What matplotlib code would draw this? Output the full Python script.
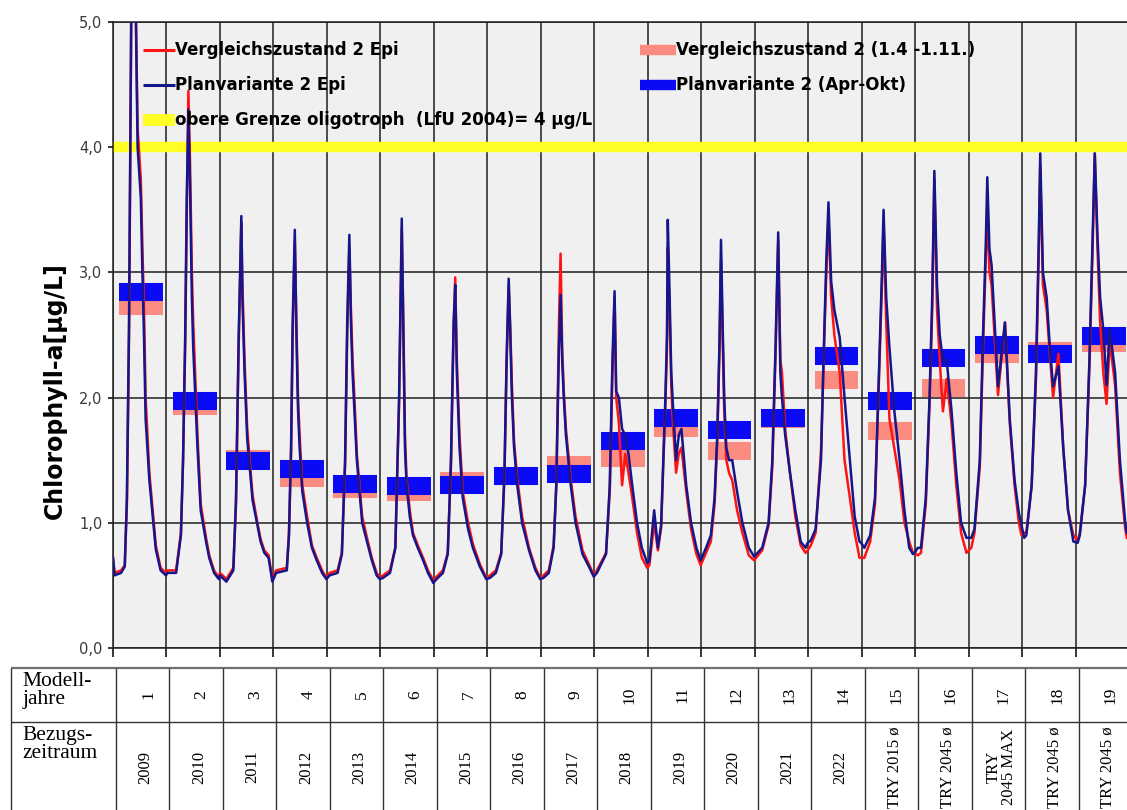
import numpy as np
import matplotlib.pyplot as plt
from matplotlib import font_manager

# --- data ------------------------------------------------------------------

MODEL_YEARS = ["1", "2", "3", "4", "5", "6", "7", "8", "9", "10",
               "11", "12", "13", "14", "15", "16", "17", "18", "19"]
PERIODS = ["2009", "2010", "2011", "2012", "2013", "2014", "2015", "2016",
           "2017", "2018", "2019", "2020", "2021", "2022",
           "TRY 2015 ø", "TRY 2045 ø", "TRY\n2045 MAX", "TRY 2045 ø",
           "TRY 2045 ø"]

# seasonal mean per model year
PLAN_MEAN = [2.84, 1.97, 1.49, 1.43, 1.31, 1.29, 1.30, 1.37, 1.39, 1.655,
             1.84, 1.74, 1.84, 2.33, 1.97, 2.32, 2.42, 2.35, 2.49]
VERG_MEAN = [2.73, 1.93, 1.51, 1.36, 1.27, 1.25, 1.33, 1.37, 1.46, 1.52,
             1.76, 1.57, 1.83, 2.14, 1.73, 2.08, 2.35, 2.37, 2.44]

# daily epilimnion curves, sampled at knots (fraction of each model year)
EPI_F = [
    [0.00, 0.03, 0.15, 0.22, 0.26, 0.30, 0.35, 0.41, 0.46, 0.52, 0.55, 0.58, 0.61, 0.68, 0.80, 0.89, 0.99],
    [0.02, 0.18, 0.27, 0.31, 0.35, 0.38, 0.41, 0.44, 0.475, 0.50, 0.54, 0.58, 0.64, 0.74, 0.80, 0.89, 0.98],
    [0.00, 0.12, 0.25, 0.30, 0.35, 0.40, 0.42, 0.46, 0.51, 0.61, 0.70, 0.76, 0.83, 0.91, 0.98],
    [0.05, 0.25, 0.29, 0.33, 0.36, 0.40, 0.43, 0.46, 0.49, 0.54, 0.63, 0.72, 0.81, 0.91, 0.99],
    [0.05, 0.20, 0.28, 0.34, 0.38, 0.42, 0.45, 0.48, 0.52, 0.56, 0.66, 0.75, 0.84, 0.93, 0.99],
    [0.05, 0.18, 0.28, 0.32, 0.35, 0.40, 0.43, 0.46, 0.49, 0.55, 0.61, 0.70, 0.80, 0.89, 0.99],
    [0.05, 0.17, 0.26, 0.32, 0.37, 0.40, 0.43, 0.48, 0.54, 0.64, 0.73, 0.86, 0.98],
    [0.05, 0.16, 0.26, 0.32, 0.36, 0.40, 0.43, 0.46, 0.50, 0.56, 0.65, 0.78, 0.90, 0.99],
    [0.05, 0.15, 0.24, 0.29, 0.34, 0.37, 0.40, 0.43, 0.47, 0.56, 0.65, 0.78, 0.90, 0.99],
    [0.05, 0.22, 0.29, 0.34, 0.38, 0.41, 0.46, 0.52, 0.58, 0.64, 0.71, 0.80, 0.89, 0.99],
    [0.03, 0.12, 0.19, 0.25, 0.29, 0.33, 0.36, 0.375, 0.41, 0.44, 0.47, 0.53, 0.58, 0.63, 0.72, 0.81, 0.91, 0.99],
    [0.09, 0.18, 0.25, 0.30, 0.34, 0.37, 0.40, 0.43, 0.47, 0.52, 0.58, 0.67, 0.77, 0.89, 0.99],
    [0.14, 0.26, 0.33, 0.39, 0.44, 0.48, 0.51, 0.57, 0.66, 0.76, 0.86, 0.95, 0.99],
    [0.05, 0.14, 0.24, 0.30, 0.34, 0.38, 0.43, 0.49, 0.59, 0.68, 0.78, 0.87, 0.96, 0.99],
    [0.05, 0.16, 0.25, 0.31, 0.38, 0.41, 0.46, 0.52, 0.61, 0.71, 0.80, 0.89, 0.96, 0.99],
    [0.05, 0.11, 0.20, 0.27, 0.32, 0.36, 0.41, 0.46, 0.52, 0.59, 0.68, 0.77, 0.86, 0.96],
    [0.05, 0.11, 0.21, 0.27, 0.32, 0.35, 0.39, 0.43, 0.55, 0.68, 0.77, 0.86, 0.94, 0.99],
    [0.04, 0.08, 0.18, 0.26, 0.31, 0.34, 0.39, 0.46, 0.52, 0.58, 0.68, 0.77, 0.86, 0.96],
    [0.04, 0.08, 0.18, 0.26, 0.32, 0.36, 0.41, 0.46, 0.52, 0.58, 0.64, 0.74, 0.83, 0.93, 0.96],
]
PLAN_EPI = [
    [0.72, 0.58, 0.60, 0.65, 1.20, 2.60, 5.60, 5.60, 4.00, 3.60, 3.00, 2.48, 1.83, 1.34, 0.79, 0.62, 0.58],
    [0.60, 0.60, 0.90, 1.50, 2.50, 3.60, 4.30, 3.70, 2.80, 2.40, 2.00, 1.60, 1.10, 0.85, 0.72, 0.60, 0.55],
    [0.58, 0.53, 0.62, 1.18, 2.48, 3.45, 2.80, 2.20, 1.67, 1.18, 0.98, 0.85, 0.76, 0.72, 0.53],
    [0.60, 0.62, 0.90, 1.60, 2.60, 3.34, 2.50, 1.90, 1.60, 1.25, 1.00, 0.80, 0.70, 0.60, 0.55],
    [0.58, 0.60, 0.75, 1.50, 2.60, 3.30, 2.60, 2.20, 1.85, 1.50, 1.00, 0.85, 0.70, 0.58, 0.55],
    [0.56, 0.60, 0.80, 1.50, 2.00, 3.43, 2.50, 1.60, 1.30, 1.05, 0.90, 0.80, 0.70, 0.60, 0.52],
    [0.55, 0.60, 0.75, 1.50, 2.60, 2.90, 2.20, 1.60, 1.20, 0.95, 0.80, 0.65, 0.55],
    [0.56, 0.60, 0.75, 1.40, 2.30, 2.95, 2.50, 2.00, 1.60, 1.30, 1.00, 0.78, 0.62, 0.55],
    [0.56, 0.60, 0.80, 1.30, 2.40, 2.82, 2.30, 2.00, 1.70, 1.30, 1.00, 0.75, 0.65, 0.57],
    [0.60, 0.75, 1.30, 2.30, 2.85, 2.05, 2.00, 1.75, 1.70, 1.55, 1.30, 1.00, 0.80, 0.68],
    [0.69, 1.10, 0.80, 0.98, 1.50, 2.00, 2.50, 3.42, 2.80, 2.20, 1.95, 1.50, 1.70, 1.75, 1.30, 1.00, 0.80, 0.70],
    [0.80, 0.90, 1.20, 1.70, 2.40, 3.26, 2.60, 2.00, 1.60, 1.50, 1.50, 1.25, 1.00, 0.80, 0.73],
    [0.80, 1.00, 1.50, 2.40, 3.32, 2.20, 2.00, 1.70, 1.40, 1.10, 0.85, 0.80, 0.84],
    [0.86, 0.95, 1.50, 2.50, 3.10, 3.56, 2.93, 2.70, 2.48, 2.00, 1.50, 1.05, 0.85, 0.84],
    [0.80, 0.90, 1.20, 2.00, 3.00, 3.50, 2.80, 2.40, 1.90, 1.50, 1.10, 0.80, 0.75, 0.76],
    [0.80, 0.80, 1.20, 2.00, 2.80, 3.81, 2.90, 2.50, 2.30, 2.30, 1.90, 1.40, 1.00, 0.88],
    [0.88, 0.95, 1.50, 2.50, 3.20, 3.76, 3.19, 3.06, 2.09, 2.60, 1.83, 1.34, 1.08, 0.98],
    [0.88, 0.90, 1.30, 2.20, 3.20, 3.95, 3.00, 2.80, 2.40, 2.09, 2.25, 1.60, 1.10, 0.85],
    [0.84, 0.90, 1.30, 2.30, 3.30, 3.95, 3.30, 2.80, 2.54, 2.10, 2.55, 2.20, 1.50, 1.00, 0.92],
]
VERG_EPI = [
    [0.72, 0.60, 0.62, 0.66, 1.15, 2.50, 5.60, 5.60, 4.15, 3.75, 3.20, 2.70, 2.00, 1.40, 0.82, 0.64, 0.60],
    [0.62, 0.62, 0.92, 1.50, 2.40, 3.50, 4.45, 3.90, 3.00, 2.60, 2.15, 1.70, 1.15, 0.88, 0.74, 0.62, 0.56],
    [0.60, 0.55, 0.64, 1.15, 2.40, 3.40, 2.90, 2.30, 1.75, 1.22, 1.00, 0.87, 0.78, 0.74, 0.55],
    [0.62, 0.64, 0.90, 1.55, 2.50, 3.25, 2.60, 2.00, 1.70, 1.30, 1.05, 0.82, 0.72, 0.62, 0.56],
    [0.60, 0.62, 0.76, 1.45, 2.50, 3.20, 2.70, 2.30, 1.95, 1.55, 1.05, 0.88, 0.72, 0.60, 0.56],
    [0.58, 0.62, 0.80, 1.45, 1.95, 3.35, 2.60, 1.70, 1.35, 1.10, 0.92, 0.82, 0.72, 0.62, 0.54],
    [0.57, 0.62, 0.76, 1.45, 2.55, 2.96, 2.30, 1.70, 1.25, 1.00, 0.83, 0.67, 0.56],
    [0.58, 0.62, 0.76, 1.35, 2.25, 2.90, 2.55, 2.10, 1.65, 1.35, 1.05, 0.80, 0.64, 0.56],
    [0.58, 0.62, 0.82, 1.30, 2.60, 3.15, 2.40, 2.05, 1.75, 1.35, 1.05, 0.78, 0.67, 0.58],
    [0.62, 0.76, 1.25, 2.20, 2.80, 2.00, 1.80, 1.30, 1.55, 1.40, 1.20, 0.92, 0.72, 0.64],
    [0.66, 1.00, 0.78, 0.96, 1.45, 1.95, 2.40, 3.20, 2.65, 2.10, 1.80, 1.40, 1.55, 1.60, 1.25, 0.95, 0.75, 0.66],
    [0.76, 0.85, 1.15, 1.65, 2.35, 3.10, 2.50, 1.90, 1.50, 1.40, 1.34, 1.10, 0.92, 0.74, 0.70],
    [0.78, 0.98, 1.45, 2.35, 3.25, 2.30, 2.20, 1.75, 1.40, 1.05, 0.82, 0.76, 0.78],
    [0.82, 0.92, 1.57, 2.45, 3.00, 3.45, 2.80, 2.50, 2.20, 1.50, 1.20, 0.92, 0.72, 0.72],
    [0.72, 0.85, 1.15, 1.95, 2.90, 3.40, 2.60, 1.83, 1.60, 1.34, 1.00, 0.85, 0.76, 0.76],
    [0.74, 0.76, 1.15, 1.95, 2.70, 3.75, 2.70, 2.30, 1.89, 2.15, 1.80, 1.30, 0.92, 0.76],
    [0.80, 0.92, 1.45, 2.40, 3.10, 3.50, 3.00, 2.90, 2.02, 2.60, 1.80, 1.30, 1.00, 0.90],
    [0.92, 0.92, 1.30, 2.15, 3.10, 3.85, 2.90, 2.70, 2.35, 2.00, 2.35, 1.60, 1.10, 0.90],
    [0.86, 0.92, 1.30, 2.25, 3.20, 3.95, 3.20, 2.60, 2.20, 1.95, 2.45, 2.10, 1.40, 0.95, 0.88],
]
OLIGO_LIMIT = 4.0

for f, p, v in zip(EPI_F, PLAN_EPI, VERG_EPI):
    assert len(f) == len(p) == len(v)

t = np.concatenate([k + np.array(f) for k, f in enumerate(EPI_F)])
plan = np.concatenate(PLAN_EPI)
verg = np.concatenate(VERG_EPI)

# --- figure ------------------------------------------------------------------

W, H = 1127, 810
fig = plt.figure(figsize=(W / 100, H / 100), dpi=100)


def px_box(x0, y0, x1, y1):
    return [x0 / W, 1 - y1 / H, (x1 - x0) / W, (y1 - y0) / H]


names = {f.name for f in font_manager.fontManager.ttflist}
if "Liberation Sans Narrow" in names:
    LEG_FONT, LEG_SIZE = "Liberation Sans Narrow", 16
else:
    LEG_FONT, LEG_SIZE = "DejaVu Sans", 12
SERIF = "Liberation Serif"

RED, NAVY = "#ff1414", "#16168c"
SALMON, BLUE, YELLOW = "#fa8c82", "#0a0af5", "#ffff26"

ax = fig.add_axes(px_box(113, 22, 1129, 648))
ax.set_facecolor("#f0f0f0")
ax.set_xlim(0, 19)
ax.set_ylim(0, 5)
ax.set_xticks(np.arange(0, 20))
ax.set_xticklabels([])
ax.set_yticks(np.arange(0, 6))
ax.set_yticklabels([f"{v},0" for v in range(6)])
ax.grid(True, color="#1e1e1e", lw=1.1)
ax.set_axisbelow(True)
ax.tick_params(axis="x", length=6.5, width=1.1, direction="out")
ax.tick_params(axis="y", length=3.6, width=1.1, direction="out",
               labelsize=10.5, labelcolor="#3a3a3a", pad=4)
for s in ax.spines.values():
    s.set_color("#1e1e1e")
    s.set_linewidth(1.1)

ax.axhline(OLIGO_LIMIT, color=YELLOW, lw=7.5, zorder=2.2)

x0 = np.arange(len(PLAN_MEAN))
ax.hlines(VERG_MEAN, x0 + 0.12, x0 + 0.94, color=SALMON, lw=13, capstyle="butt",
          zorder=2.4)
ax.hlines(PLAN_MEAN, x0 + 0.12, x0 + 0.94, color=BLUE, lw=13, capstyle="butt",
          zorder=2.5)

ax.plot(t, verg, color=RED, lw=1.8, zorder=3)
ax.plot(t, plan, color=NAVY, lw=1.8, zorder=4)

# legend, drawn by hand (two columns, no frame)
legend_rows = [
    (0.0295, 0.061, 0.955, RED, 2.2, "Vergleichszustand 2 Epi"),
    (0.0295, 0.061, 0.899, NAVY, 2.2, "Planvariante 2 Epi"),
    (0.0295, 0.061, 0.843, YELLOW, 8.5, "obere Grenze oligotroph  (LfU 2004)= 4 µg/L"),
    (0.519, 0.554, 0.955, SALMON, 7.5, "Vergleichszustand 2 (1.4 -1.11.)"),
    (0.519, 0.554, 0.899, BLUE, 7.5, "Planvariante 2 (Apr-Okt)"),
]
for xa, xb, y, c, lw, label in legend_rows:
    ax.plot([xa, xb], [y, y], color=c, lw=lw, solid_capstyle="butt",
            transform=ax.transAxes, zorder=6)
    ax.text(xb, y, label, transform=ax.transAxes, ha="left", va="center",
            fontsize=LEG_SIZE, fontweight="bold", family=LEG_FONT, zorder=7)

fig.text(55 / W, 1 - 391 / H, "Chlorophyll-a[µg/L]", rotation=90,
         ha="center", va="center", fontsize=17, fontweight="bold")

# table below the chart
head_w = 105 / 53.5
tab = fig.add_axes(px_box(11, 668, 1132, 812))
tab.set_xlim(-head_w, 19)
tab.set_ylim(0, 144)
tab.axis("off")
tab.hlines([144], -head_w, 19, color="#707070", lw=1.6, clip_on=False)
tab.hlines([90], -head_w, 19, color="#333333", lw=1.0, clip_on=False)
tab.vlines(np.concatenate([[-head_w], np.arange(0, 20)]), 0, 144,
           color="#333333", lw=1.0, clip_on=False)

tab.text(-head_w + 0.22, 140, "Modell-\njahre", ha="left", va="top",
         family=SERIF, fontsize=15.5, linespacing=0.95)
tab.text(-head_w + 0.22, 86, "Bezugs-\nzeitraum", ha="left", va="top",
         family=SERIF, fontsize=15.5, linespacing=0.95)
for k, (num, per) in enumerate(zip(MODEL_YEARS, PERIODS)):
    tab.text(k + 0.6, 117, num, rotation=90, ha="center", va="center",
             family=SERIF, fontsize=12.5)
    tab.text(k + 0.55, 45, per, rotation=90, ha="center", va="center",
             family=SERIF, fontsize=12, multialignment="center",
             linespacing=0.95)

fig.savefig("out.png", dpi=100)
